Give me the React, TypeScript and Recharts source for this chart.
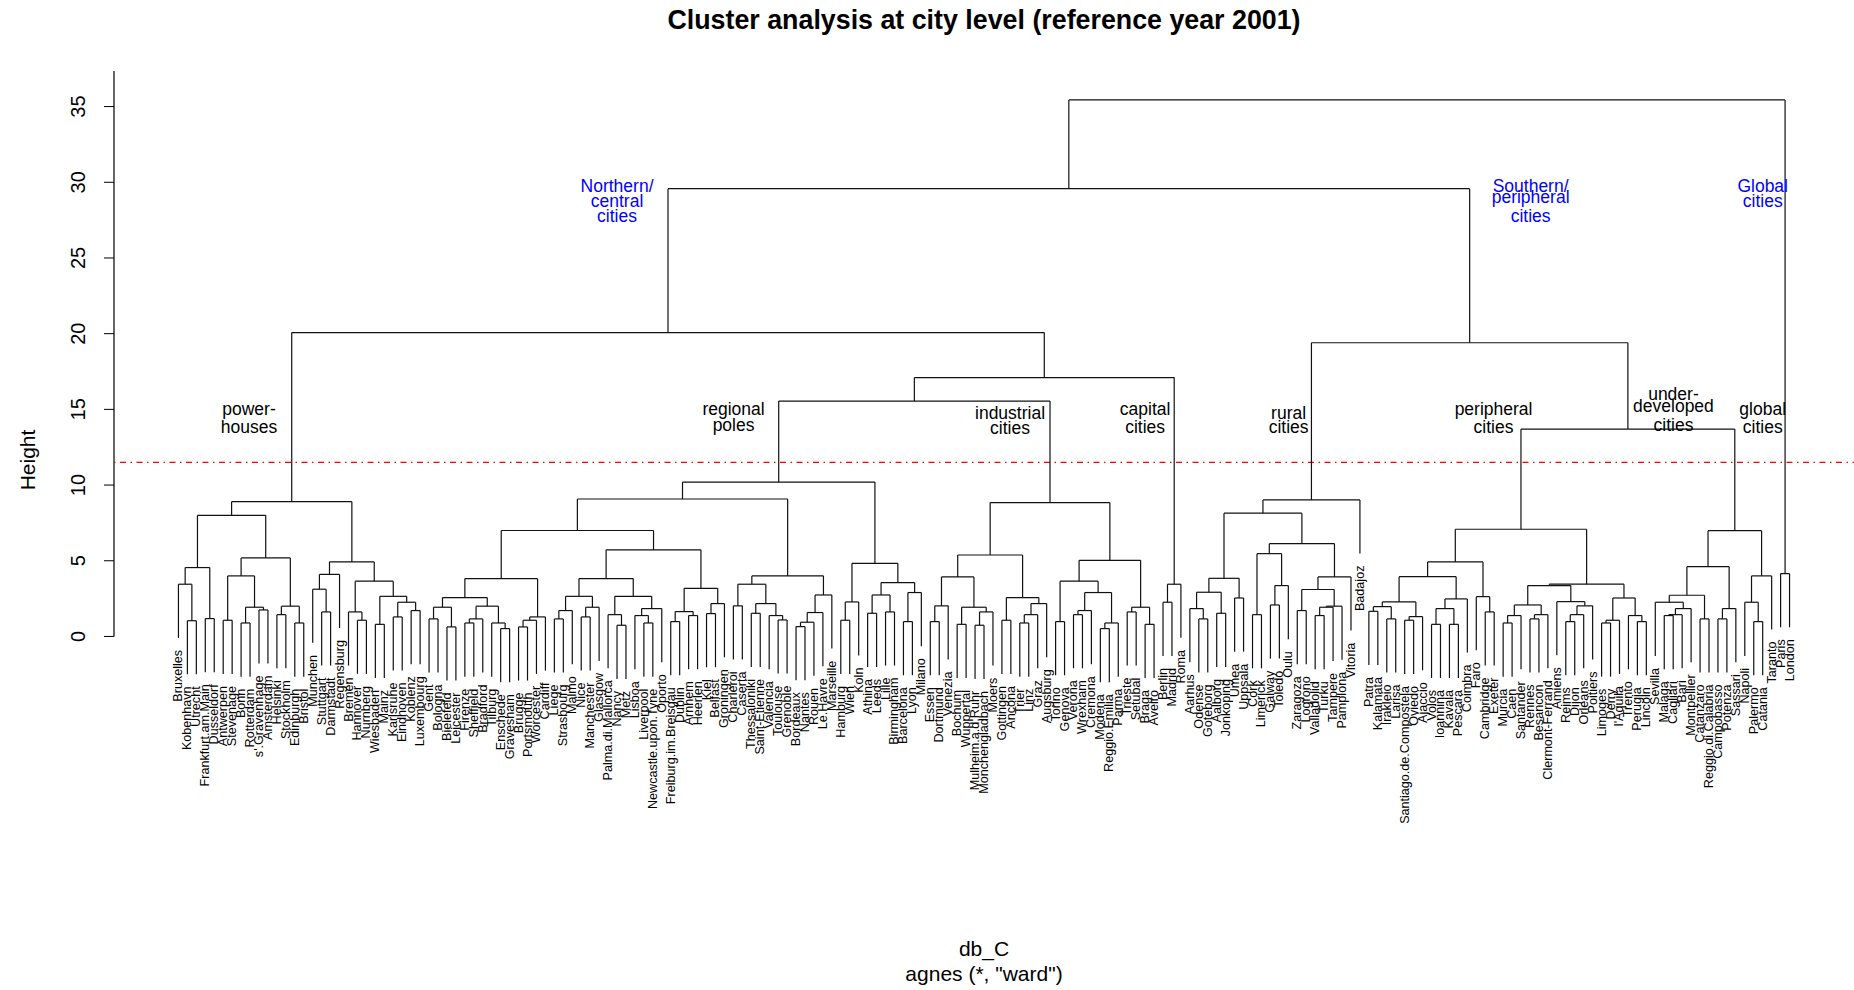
import React from "react";
import {
  ComposedChart,
  XAxis,
  YAxis,
  Scatter,
  ReferenceLine,
  ReferenceDot,
} from "recharts";

// merge tree: a leaf is a city name, a merge is [left, right, height]
type Node = string | [Node, Node, number];

const powerHouses: Node = [
  [
    [["Bruxelles", ["Kobenhavn", "Utrecht", 1.04], 3.45], ["Frankfurt.am.Main", "Dusseldorf", 1.18], 4.55],
    [
      [["Antwerpen", "Stevenage", 1.07], [["Bonn", "Rotterdam", 0.89], ["s'.Gravenhage", "Amsterdam", 1.75], 1.93], 4.0],
      [["Helsinki", "Stockholm", 1.44], ["Edinburgh", "Bristol", 0.89], 2.0],
      5.19,
    ],
    8.0,
  ],
  [
    [["Munchen", ["Stuttgart", "Darmstadt", 1.62], 3.12], "Regensburg", 4.1],
    [
      ["Bremen", ["Hannover", "Nurnberg", 1.07], 1.62],
      [["Wiesbaden", "Mainz", 0.8], [["Karlsruhe", "Eindhoven", 1.29], ["Koblenz", "Luxembourg", 1.71], 2.26], 2.65],
      3.65,
    ],
    4.92,
  ],
  8.9,
];

const regionalWest: Node = [
  [
    [["Gent", "Bologna", 1.16], ["Bielefeld", "Leicester", 0.63], 1.93],
    [[["Firenze", "Sheffield", 0.89], "Bradford", 1.16], ["Tilburg", ["Enschede", "Gravesham", 0.52], 0.89], 2.0],
    2.57,
  ],
  [[["Brugge", "Portsmouth", 0.63], "Worcester", 1.07], "Cardiff", 1.29],
  3.82,
];

const regionalMixed: Node = [
  [
    [[["Liege", "Strasbourg", 1.16], "Malmo", 1.71], [["Nice", "Manchester", 1.29], "Glasgow", 1.93], 2.65],
    [
      ["Palma.di.Mallorca", ["Nancy", "Metz", 0.74], 1.44],
      [["Lisboa", ["Liverpool", "Newcastle.upon.Tyne", 0.89], 1.38], "Oporto", 1.84],
      2.65,
    ],
    3.82,
  ],
  [
    [["Freiburg.im.Breisgau", "Dublin", 0.98], ["Arnhem", "Heerlen", 1.38], 1.64],
    [["Kiel", "Belfast", 1.51], "Groningen", 2.17],
    3.18,
  ],
  5.72,
];

const regionalSouth: Node = [
  [
    ["Charleroi", "Caserta", 2.02],
    [["Thessaloniki", "Saint-Etienne", 1.53], ["Valencia", ["Toulouse", "Grenoble", 1.09], 1.38], 2.17],
    3.45,
  ],
  [[[["Bordeaux", "Nantes", 0.65], "Rouen", 0.94], "Le.Havre", 1.58], "Marseille", 2.74],
  4.0,
];

const regionalMetro: Node = [
  [["Hamburg", "Wien", 1.07], "Koln", 2.28],
  [
    [["Athina", "Leeds", 1.53], ["Lille", "Birmingham", 1.62], 2.74],
    [["Barcelona", "Lyon", 0.98], "Milano", 2.9],
    3.56,
  ],
  4.83,
];

const industrialNorth: Node = [
  [
    [["Essen", "Dortmund", 0.98], "Venezia", 2.02],
    [["Bochum", "Wuppertal", 0.8], [["Mulheim.a.d.Ruhr", "Monchengladbach", 0.74], "Moers", 1.62], 1.93],
    3.93,
  ],
  [["Gottingen", "Ancona", 1.07], [[["Trier", "Linz", 0.89], "Graz", 1.44], "Augsburg", 2.17], 2.57],
  5.38,
];

const industrialSouth: Node = [
  [
    ["Torino", "Genova", 0.98],
    [[["Verona", "Wrexham", 1.44], "Cremona", 1.71], [["Modena", "Reggio.Emilia", 0.52], "Parma", 0.89], 2.9],
    3.65,
  ],
  [["Trieste", "Setubal", 1.62], ["Braga", "Aveiro", 0.8], 1.93],
  5.03,
];

const capitalCities: Node = [["Berlin", "Madrid", 2.26], "Roma", 3.45];

const ruralCities: Node = [
  [
    [
      [["Aarhus", ["Odense", "Goteborg", 1.16], 1.84], ["Aalborg", "Jonkoping", 1.53], 2.92],
      ["Umea", "Uppsala", 2.54],
      3.84,
    ],
    [
      [["Cork", "Limerick", 1.44], [["Galway", "Toledo", 2.08], "Oulu", 3.36], 5.47],
      [
        [["Zaragoza", "Logrono", 1.71], [[["Valladolid", "Turku", 1.38], "Tampere", 1.93], "Pamplona", 2.0], 3.1],
        "Vitoria",
        3.93,
      ],
      6.13,
    ],
    8.14,
  ],
  "Badajoz",
  9.02,
];

const peripheralA: Node = [
  [
    [
      [["Patra", "Kalamata", 1.66], ["Irakleio", "Larisa", 1.16], 1.97],
      [["Santiago.de.Compostela", "Oviedo", 1.07], "Ajaccio", 1.31],
      2.28,
    ],
    [[["Volos", "Ioannina", 0.8], ["Kavala", "Pescara", 0.8], 1.84], "Coimbra", 2.48],
    3.95,
  ],
  ["Faro", ["Cambridge", "Exeter", 1.62], 2.63],
  4.92,
];

const peripheralB: Node = [
  [
    [[["Murcia", "Caen", 0.89], "Santander", 1.38], [["Rennes", "Besancon", 1.16], "Clermont-Ferrand", 1.44], 2.08],
    ["Amiens", [[["Reims", "Dijon", 0.98], "Orleans", 1.44], "Poitiers", 2.02], 2.3],
    3.36,
  ],
  [[["Limoges", "Derry", 0.89], "l'Aquila", 1.07], ["Trento", ["Perugia", "Lincoln", 0.98], 1.38], 2.54],
  3.45,
];

const underdeveloped: Node = [
  [
    [
      ["Sevilla", [[["Malaga", "Cagliari", 1.38], "Bari", 1.44], "Montpellier", 1.84], 2.26],
      ["Catanzaro", "Reggio.di.Calabria", 1.16],
      2.72,
    ],
    [["Campobasso", "Potenza", 1.16], "Sassari", 1.84],
    4.61,
  ],
  [["Napoli", ["Palermo", "Catania", 0.98], 2.26], "Taranto", 4.0],
  6.99,
];

const globalCities: Node = ["Paris", "London", 4.15];

const regionalPoles: Node = [[[regionalWest, regionalMixed, 7.0], regionalSouth, 9.08], regionalMetro, 10.2];
const industrialCities: Node = [industrialNorth, industrialSouth, 8.84];
const peripheralCities: Node = [peripheralA, peripheralB, 7.08];

const northernCentral: Node = [powerHouses, [[regionalPoles, industrialCities, 15.55], capitalCities, 17.1], 20.07];
const southernPeripheral: Node = [ruralCities, [peripheralCities, underdeveloped, 13.7], 19.4];
const cityTree: Node = [[northernCentral, southernPeripheral, 29.58], globalCities, 35.44];

const HEIGHT_TICKS = [0, 5, 10, 15, 20, 25, 30, 35];
const CUT_HEIGHT = 11.5;

// cluster names written on the plot (x in leaf units, y in height units)
const notes = [
  { text: "Northern/", x: 50.0, y: 29.36, color: "#0000ff" },
  { text: "central", x: 50.0, y: 28.37, color: "#0000ff" },
  { text: "cities", x: 50.0, y: 27.38, color: "#0000ff" },
  { text: "Southern/", x: 152.07, y: 29.36, color: "#0000ff" },
  { text: "peripheral", x: 152.07, y: 28.63, color: "#0000ff" },
  { text: "cities", x: 152.07, y: 27.38, color: "#0000ff" },
  { text: "Global", x: 178.0, y: 29.36, color: "#0000ff" },
  { text: "cities", x: 178.0, y: 28.37, color: "#0000ff" },
  { text: "power-", x: 8.88, y: 14.63, color: "#000" },
  { text: "houses", x: 8.88, y: 13.44, color: "#000" },
  { text: "regional", x: 63.02, y: 14.63, color: "#000" },
  { text: "poles", x: 63.02, y: 13.57, color: "#000" },
  { text: "industrial", x: 93.91, y: 14.37, color: "#000" },
  { text: "cities", x: 93.91, y: 13.37, color: "#000" },
  { text: "capital", x: 109.0, y: 14.63, color: "#000" },
  { text: "cities", x: 109.0, y: 13.44, color: "#000" },
  { text: "rural", x: 125.03, y: 14.37, color: "#000" },
  { text: "cities", x: 125.03, y: 13.44, color: "#000" },
  { text: "peripheral", x: 147.93, y: 14.63, color: "#000" },
  { text: "cities", x: 147.93, y: 13.44, color: "#000" },
  { text: "under-", x: 168.03, y: 15.62, color: "#000" },
  { text: "developed", x: 168.03, y: 14.83, color: "#000" },
  { text: "cities", x: 168.03, y: 13.57, color: "#000" },
  { text: "global", x: 178.0, y: 14.63, color: "#000" },
  { text: "cities", x: 178.0, y: 13.44, color: "#000" },
];

const FONT = "'Liberation Sans', Arial, Helvetica, sans-serif";

type Pt = { x: number; y: number };

function buildDendrogram(root: Node) {
  const rootH = (root as [Node, Node, number])[2];
  const hang = 0.1 * rootH;
  const leaves: { x: number; y: number; name: string }[] = [];
  const segments: [Pt, Pt][] = [];
  let n = 0;
  const walk = (node: Node, parentH: number): Pt => {
    if (typeof node === "string") {
      n += 1;
      const y = parentH - hang;
      leaves.push({ x: n, y, name: node });
      return { x: n, y };
    }
    const [l, r, h] = node;
    const a = walk(l, h);
    const b = walk(r, h);
    segments.push([{ x: a.x, y: a.y }, { x: a.x, y: h }]);
    segments.push([{ x: a.x, y: h }, { x: b.x, y: h }]);
    segments.push([{ x: b.x, y: b.y }, { x: b.x, y: h }]);
    return { x: (a.x + b.x) / 2, y: h };
  };
  walk(root, rootH);
  return { leaves, segments };
}

const { leaves, segments } = buildDendrogram(cityTree);
const nLeaves = leaves.length;
const xMin = 1 - 0.04 * (nLeaves - 1);
const xMax = nLeaves + 0.04 * (nLeaves - 1);
const yTop = 37.35;

const LeafLabel = (props: any) => {
  const { cx, cy, payload } = props;
  const y = cy + 12;
  return (
    <text
      x={cx}
      y={y}
      transform={`rotate(-90 ${cx} ${y})`}
      textAnchor="end"
      dominantBaseline="central"
      fontSize={12.6}
      fontFamily={FONT}
      fill="#000"
    >
      {payload.name}
    </text>
  );
};

const HeightTick = (props: any) => {
  const { x, y, payload } = props;
  const tx = x - 17;
  return (
    <text
      x={tx}
      y={y}
      transform={`rotate(-90 ${tx} ${y})`}
      textAnchor="middle"
      fontSize={20}
      fontFamily={FONT}
      fill="#000"
    >
      {payload.value}
    </text>
  );
};

export default function App() {
  return (
    <div style={{ position: "absolute", left: 0, top: 0, width: 1854, height: 990, background: "#fff" }}>
      <ComposedChart
        width={1854}
        height={990}
        margin={{ top: 71, right: 0, bottom: 141.6, left: 0 }}
      >
        <XAxis dataKey="x" type="number" domain={[xMin, xMax]} hide />
        <YAxis
          dataKey="y"
          type="number"
          domain={[-14, yTop]}
          ticks={HEIGHT_TICKS}
          interval={0}
          width={114}
          tickSize={10}
          axisLine={false}
          tickLine={{ stroke: "#000" }}
          tick={<HeightTick />}
        />
        <ReferenceLine
          segment={[{ x: xMin, y: 0 }, { x: xMin, y: yTop }]}
          stroke="#000"
          strokeWidth={1.2}
          ifOverflow="visible"
        />
        <ReferenceLine
          y={CUT_HEIGHT}
          stroke="#ff0000"
          strokeWidth={1.3}
          strokeDasharray="1.5 4.5 6 4.5"
        />
        {segments.map((s, i) => (
          <ReferenceLine
            key={`seg-${i}`}
            segment={s}
            stroke="#111"
            strokeWidth={1.2}
            ifOverflow="visible"
          />
        ))}
        {notes.map((n, i) => (
          <ReferenceDot
            key={`note-${i}`}
            x={n.x}
            y={n.y}
            r={0}
            ifOverflow="visible"
            shape={(p: any) => (
              <text
                x={p.cx}
                y={p.cy}
                textAnchor="middle"
                fontSize={17.5}
                fontFamily={FONT}
                fill={n.color}
              >
                {n.text}
              </text>
            )}
          />
        ))}
        <Scatter data={leaves} dataKey="y" shape={<LeafLabel />} isAnimationActive={false} />
      </ComposedChart>
      <svg
        width={1854}
        height={990}
        style={{ position: "absolute", left: 0, top: 0, pointerEvents: "none" }}
      >
        <text x={984} y={29} textAnchor="middle" fontSize={26.8} fontWeight="bold" fontFamily={FONT}>
          Cluster analysis at city level (reference year 2001)
        </text>
        <text x={35} y={460} transform="rotate(-90 35 460)" textAnchor="middle" fontSize={21} fontFamily={FONT}>
          Height
        </text>
        <text x={984} y={956} textAnchor="middle" fontSize={21} fontFamily={FONT}>
          db_C
        </text>
        <text x={984} y={981} textAnchor="middle" fontSize={21} fontFamily={FONT}>
          agnes (*, "ward")
        </text>
      </svg>
    </div>
  );
}
